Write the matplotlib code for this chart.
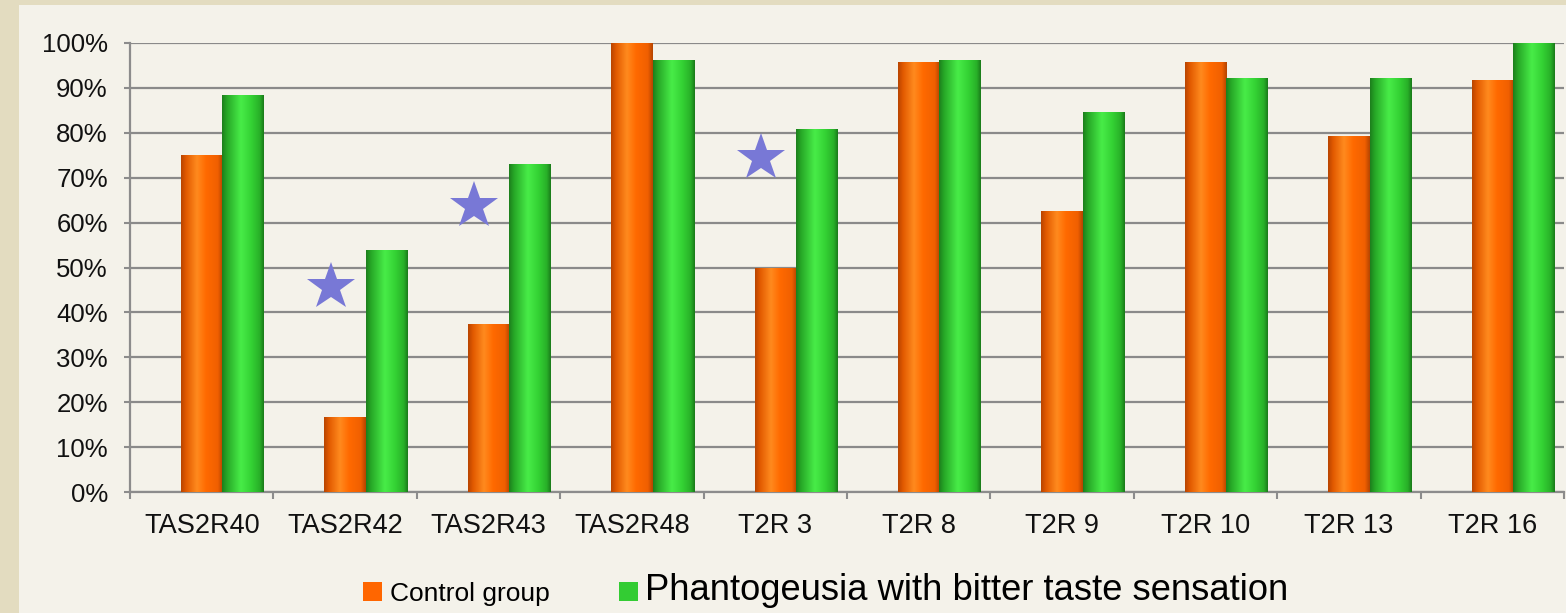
import numpy as np
import matplotlib
matplotlib.use("Agg")
import matplotlib.pyplot as plt
from matplotlib.colors import LinearSegmentedColormap
from matplotlib.patches import Patch, Rectangle
from matplotlib.ticker import FixedLocator, PercentFormatter

# ---------------- data ----------------
categories = ["TAS2R40", "TAS2R42", "TAS2R43", "TAS2R48", "T2R 3",
              "T2R 8", "T2R 9", "T2R 10", "T2R 13", "T2R 16"]
control = [75.0, 16.7, 37.5, 100.0, 50.0, 95.8, 62.5, 95.8, 79.2, 91.7]
phantogeusia = [88.5, 53.8, 73.1, 96.2, 80.8, 96.2, 84.6, 92.3, 92.3, 100.0]
series_names = ["Control group", "Phantogeusia with bitter taste sensation"]
star_categories = ["TAS2R42", "TAS2R43", "T2R 3"]
star_levels = [45.7, 63.6, 74.4]
yticks = [0, 10, 20, 30, 40, 50, 60, 70, 80, 90, 100]

# ---------------- style ----------------
plt.rcParams["font.family"] = ["Liberation Sans", "DejaVu Sans"]
W, H = 1566, 613
fig = plt.figure(figsize=(W / 100, H / 100), dpi=100)
fig.patch.set_facecolor("#e3dcc0")
fig.patches.append(Rectangle((19 / W, 0), 1 - 19 / W, 1 - 5 / H,
                             transform=fig.transFigure, facecolor="#f4f2ea",
                             edgecolor="none", zorder=-10))

ax = fig.add_axes([130 / W, 1 - 492 / H, (1564 - 130) / W, (492 - 43) / H])
ax.set_facecolor("none")
ax.set_zorder(1)

x = np.arange(len(categories))
bw = 0.29
orange_base = "#ff6600"
green_base = "#33cc33"

b1 = ax.bar(x, control, width=bw, color=orange_base, zorder=3, linewidth=0)
b2 = ax.bar(x + bw, phantogeusia, width=bw, color=green_base, zorder=3, linewidth=0)

cmap_o = LinearSegmentedColormap.from_list(
    "o", [(0, "#b84400"), (0.12, "#e25a00"), (0.38, "#ff8a1e"),
          (0.6, "#ff6a00"), (0.88, "#f05f00"), (1, "#b44400")])
cmap_g = LinearSegmentedColormap.from_list(
    "g", [(0, "#1c7e1c"), (0.12, "#27a827"), (0.45, "#48ec48"),
          (0.7, "#34d234"), (0.9, "#28b028"), (1, "#1a7a1a")])
grad = np.linspace(0, 1, 256).reshape(1, -1)
for cont, cm in ((b1, cmap_o), (b2, cmap_g)):
    for r in cont:
        x0, w, h = r.get_x(), r.get_width(), r.get_height()
        im = ax.imshow(grad, extent=[x0, x0 + w, 0, h], aspect="auto",
                       cmap=cm, interpolation="bilinear", zorder=3.5)
        im.set_clip_path(r)

# stars
star_x = [categories.index(c) - 0.1 for c in star_categories]
ax.plot(star_x, star_levels, linestyle="none", marker="*", markersize=36,
        color="#7878d6", markeredgewidth=0, zorder=5)

ax.set_xlim(-0.5, len(categories) - 0.5)
ax.set_ylim(0, 100)

# axes, grid, ticks
ax.yaxis.set_major_locator(FixedLocator(yticks))
ax.yaxis.set_major_formatter(PercentFormatter(decimals=0))
ax.set_xticks(x)
ax.set_xticklabels(categories)
ax.xaxis.set_minor_locator(FixedLocator(np.arange(-0.5, len(categories), 1.0)))
ax.tick_params(axis="x", which="major", length=0, pad=15, labelsize=19.5)
ax.tick_params(axis="x", which="minor", length=5, width=1.5, color="#8c8c8c")
ax.tick_params(axis="y", which="major", length=4, width=1.5, color="#8c8c8c",
               pad=12, labelsize=18.5)
for lbl in ax.get_xticklabels() + ax.get_yticklabels():
    lbl.set_color("#111111")

ax.grid(axis="y", color="#8a8a8a", linewidth=1.6, zorder=1)
ax.set_axisbelow(True)
for s in ("top", "right"):
    ax.spines[s].set_visible(False)
for s in ("left", "bottom"):
    ax.spines[s].set_color("#8c8c8c")
    ax.spines[s].set_linewidth(1.6)

# legend
handles = [Patch(facecolor=orange_base, edgecolor="none"),
           Patch(facecolor=green_base, edgecolor="none")]
leg = fig.legend(handles, series_names, loc="center", ncol=2, frameon=False,
                 bbox_to_anchor=(826 / W, 1 - 591 / H), fontsize=19,
                 handlelength=0.72, handleheight=0.72, handletextpad=0.3,
                 columnspacing=2.6)
leg.get_texts()[1].set_fontsize(26.2)

fig.savefig("out.png", dpi=100, facecolor=fig.get_facecolor())
